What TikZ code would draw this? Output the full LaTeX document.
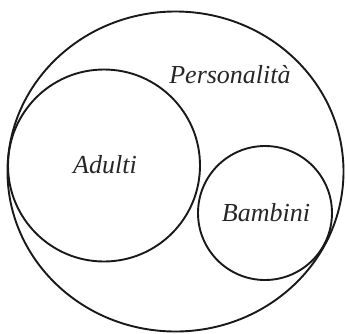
\documentclass[tikz,border=0pt]{standalone}
\usepackage{fontspec}
\setmainfont{Liberation Serif}
\begin{document}
\begin{tikzpicture}[x=1pt,y=-1pt,
  ring/.style={draw=black!90,line width=1.9pt},
  lbl/.style={font=\itshape\fontsize{26}{30}\selectfont,text=black!85}]
\useasboundingbox (0,0) rectangle (346,333);
\draw[ring] (175.5,171.5) ellipse [x radius=168, y radius=160];
\draw[ring] (104,165.5) circle [radius=96];
\draw[ring] (265,213) circle [radius=67];
\node[lbl] (pers) at (230,75) {Personalità};
\node[lbl] (adulti) at (105,165) {Adulti};
\node[lbl] (bambini) at (266,213) {Bambini};
\end{tikzpicture}
\end{document}
